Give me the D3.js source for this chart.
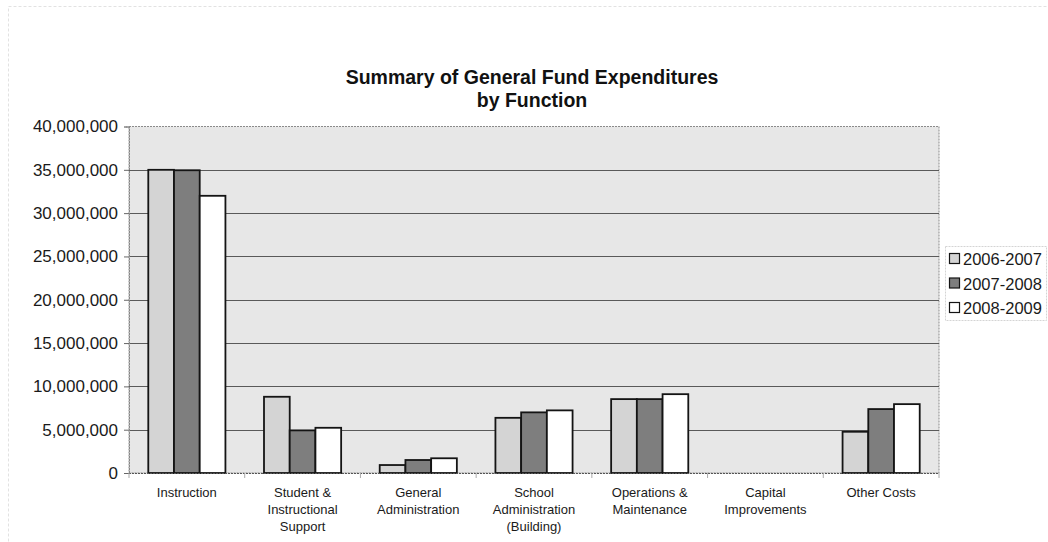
<!DOCTYPE html>
<html>
<head>
<meta charset="utf-8">
<script src="https://cdn.jsdelivr.net/npm/d3@7"></script>
<style>
  body { margin: 0; background: #fff; }
  svg { display: block; font-family: "Liberation Sans", Arial, sans-serif; }
</style>
</head>
<body>
<svg id="chart" width="1048" height="542"></svg>
<script>
// Categories (line breaks mark wrapped labels)
const categories = [
  "Instruction",
  "Student &\nInstructional\nSupport",
  "General\nAdministration",
  "School\nAdministration\n(Building)",
  "Operations &\nMaintenance",
  "Capital\nImprovements",
  "Other Costs"
];
const seriesNames = ["2006-2007", "2007-2008", "2008-2009"];
const values2006 = [35000000, 8800000, 920000, 6370000, 8530000, 0, 4760000];
const values2007 = [34950000, 4920000, 1500000, 7000000, 8530000, 0, 7380000];
const values2008 = [32000000, 5220000, 1700000, 7230000, 9100000, 0, 7950000];
const yTicks = [0, 5000000, 10000000, 15000000, 20000000, 25000000, 30000000, 35000000, 40000000];

const seriesValues = [values2006, values2007, values2008];
const fills = ["#d4d4d4", "#7e7e7e", "#ffffff"];

const svg = d3.select("#chart");
const plot = { left: 129, right: 939, top: 126.5, bottom: 473 };

// faint outer frame of the chart object
svg.append("rect")
  .attr("x", 8.5).attr("y", 6.5).attr("width", 1060).attr("height", 560)
  .attr("fill", "none").attr("stroke", "#e2e2e2").attr("stroke-width", 1)
  .attr("stroke-dasharray", "3,2");

// title
const title = svg.append("text")
  .attr("text-anchor", "middle")
  .attr("font-weight", "bold")
  .attr("font-size", 19.5)
  .attr("fill", "#111");
title.append("tspan").attr("x", 532).attr("y", 84).text("Summary of General Fund Expenditures");
title.append("tspan").attr("x", 532).attr("y", 107).text("by Function");

const x = d3.scaleBand()
  .domain(categories)
  .range([plot.left, plot.right])
  .paddingInner(1 / 3)
  .paddingOuter(1 / 6);
const xs = d3.scaleBand()
  .domain(seriesNames)
  .range([0, x.bandwidth()]);
const y = d3.scaleLinear()
  .domain([0, 40000000])
  .range([plot.bottom, plot.top]);

// plot area background
svg.append("rect")
  .attr("x", plot.left).attr("y", plot.top)
  .attr("width", plot.right - plot.left).attr("height", plot.bottom - plot.top)
  .attr("fill", "#e7e7e7")
  .attr("stroke", "#8a8a8a").attr("stroke-width", 1)
  .attr("stroke-dasharray", "2,1");

// gridlines
svg.append("g")
  .selectAll("line")
  .data(yTicks.filter(d => d > 0 && d < 40000000))
  .join("line")
  .attr("x1", plot.left).attr("x2", plot.right)
  .attr("y1", d => Math.round(y(d)) + 0.5).attr("y2", d => Math.round(y(d)) + 0.5)
  .attr("stroke", "#5a5a5a").attr("stroke-width", 1);

// y axis
const yAxis = svg.append("g")
  .attr("transform", `translate(${plot.left},0)`)
  .call(d3.axisLeft(y).tickValues(yTicks).tickFormat(d3.format(",")).tickSize(5).tickPadding(6));
yAxis.select(".domain").attr("stroke", "#888").attr("stroke-dasharray", "2,1");
yAxis.selectAll(".tick line").attr("stroke", "#666");
yAxis.selectAll(".tick text")
  .attr("font-size", 17)
  .attr("font-family", "'Liberation Sans', Arial, sans-serif")
  .attr("fill", "#1a1a1a");

// bars
const groups = svg.append("g")
  .selectAll("g")
  .data(categories)
  .join("g")
  .attr("transform", d => `translate(${x(d)},0)`);
groups.selectAll("rect")
  .data((d, i) => seriesNames.map((s, j) => ({ s, j, v: seriesValues[j][i] })))
  .join("rect")
  .filter(d => d.v > 0)
  .attr("x", d => xs(d.s))
  .attr("y", d => y(d.v))
  .attr("width", xs.bandwidth())
  .attr("height", d => y(0) - y(d.v))
  .attr("fill", d => fills[d.j])
  .attr("stroke", "#141414")
  .attr("stroke-width", 1.8);

// x axis baseline and category tick marks
const xAxis = svg.append("g")
  .attr("transform", `translate(0,${plot.bottom})`);
xAxis.append("line")
  .attr("x1", plot.left).attr("x2", plot.right)
  .attr("y1", 0.5).attr("y2", 0.5)
  .attr("stroke", "#555").attr("stroke-dasharray", "2,1");
const step = x.step();
xAxis.selectAll(".sep")
  .data(d3.range(categories.length + 1))
  .join("line")
  .attr("class", "sep")
  .attr("x1", i => plot.left + i * step).attr("x2", i => plot.left + i * step)
  .attr("y1", 0).attr("y2", 5)
  .attr("stroke", "#aaa");

// category labels
xAxis.selectAll(".lab")
  .data(categories)
  .join("text")
  .attr("class", "lab")
  .attr("text-anchor", "middle")
  .attr("font-size", 13)
  .attr("fill", "#1a1a1a")
  .each(function (d) {
    const t = d3.select(this);
    d.split("\n").forEach((line, k) => {
      t.append("tspan")
        .attr("x", x(d) + x.bandwidth() / 2)
        .attr("y", 24 + k * 17)
        .text(line);
    });
  });

// legend
const legend = svg.append("g").attr("transform", "translate(945,246)");
legend.append("rect")
  .attr("x", 0.5).attr("y", 0.5).attr("width", 101).attr("height", 74)
  .attr("fill", "#fff").attr("stroke", "#d4d4d4").attr("stroke-dasharray", "2,1");
const items = legend.selectAll(".item")
  .data(seriesNames)
  .join("g")
  .attr("class", "item")
  .attr("transform", (d, i) => `translate(0,${13 + i * 24.5})`);
items.append("rect")
  .attr("x", 4.5).attr("y", -5.5).attr("width", 10).attr("height", 10)
  .attr("fill", (d, i) => fills[i])
  .attr("stroke", "#141414").attr("stroke-width", 1.2);
items.append("text")
  .attr("x", 18).attr("y", 6)
  .attr("font-size", 16.5)
  .attr("fill", "#1a1a1a")
  .text(d => d);
</script>
</body>
</html>
